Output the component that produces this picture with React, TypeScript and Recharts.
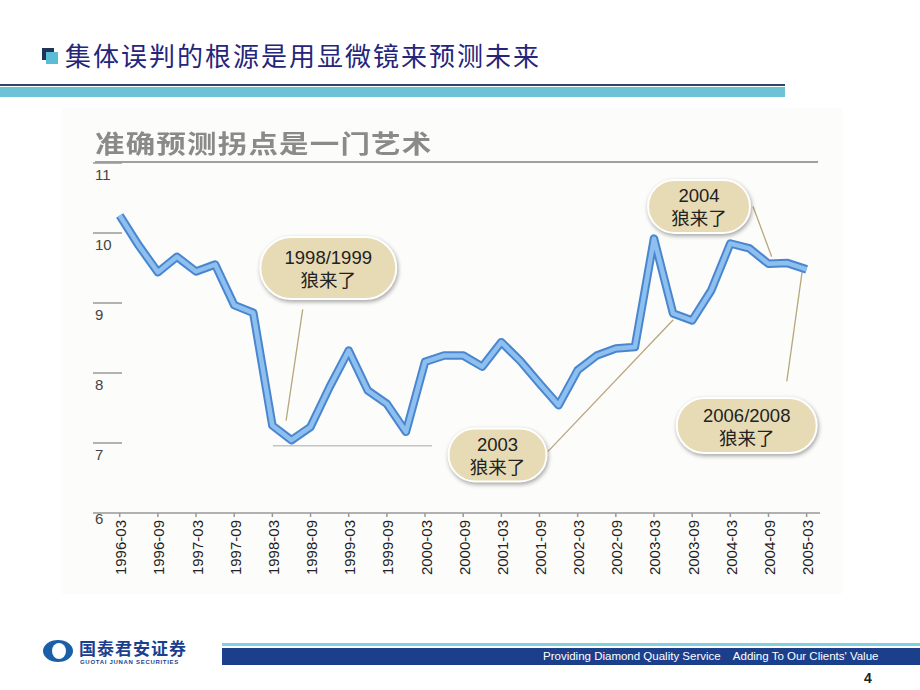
import React from "react";
import { LineChart, Line, XAxis, YAxis, ReferenceLine, ReferenceDot } from "recharts";

// quarterly series, 1996-03 .. 2005-03
const quarters = [
  "1996-03", "1996-06", "1996-09", "1996-12",
  "1997-03", "1997-06", "1997-09", "1997-12",
  "1998-03", "1998-06", "1998-09", "1998-12",
  "1999-03", "1999-06", "1999-09", "1999-12",
  "2000-03", "2000-06", "2000-09", "2000-12",
  "2001-03", "2001-06", "2001-09", "2001-12",
  "2002-03", "2002-06", "2002-09", "2002-12",
  "2003-03", "2003-06", "2003-09", "2003-12",
  "2004-03", "2004-06", "2004-09", "2004-12",
  "2005-03",
];
const rates = [
  10.25, 9.82, 9.44, 9.66,
  9.45, 9.55, 8.97, 8.86,
  7.25, 7.04, 7.23, 7.8,
  8.32, 7.75, 7.56, 7.16,
  8.16, 8.25, 8.25, 8.09,
  8.44, 8.17, 7.85, 7.54,
  8.04, 8.25, 8.35, 8.37,
  9.92, 8.85, 8.75, 9.18,
  9.85, 9.78, 9.56, 9.57,
  9.48,
];
const tickLabels = [
  "1996-03", "1996-09", "1997-03", "1997-09", "1998-03", "1998-09", "1999-03",
  "1999-09", "2000-03", "2000-09", "2001-03", "2001-09", "2002-03", "2002-09",
  "2003-03", "2003-09", "2004-03", "2004-09", "2005-03",
];
const yTicks = [6, 7, 8, 9, 10, 11];

// callouts (x in quarter index, y in value)
const bubbleLabels = ["1998/1999", "2003", "2004", "2006/2008"];
const bubbleX = [10.93, 19.8, 30.36, 32.86];
const bubbleY = [9.5, 6.83, 10.38, 7.25];
const wolfText = "狼来了";
const leaders = [
  [{ x: 9.59, y: 8.91 }, { x: 8.72, y: 7.32 }],
  [{ x: 22.45, y: 6.88 }, { x: 29.01, y: 8.76 }],
  [{ x: 33.19, y: 10.38 }, { x: 34.17, y: 9.66 }],
  [{ x: 34.96, y: 7.88 }, { x: 35.76, y: 9.44 }],
];
const floorLine = [{ x: 8.03, y: 6.96 }, { x: 16.37, y: 6.96 }];

const bubbleW = [136, 98, 102, 140];
const bubbleH = [62, 53, 53, 55];

const data = quarters.map((q, i) => ({ i, q, v: rates[i] }));

const SANS = "'Liberation Sans', Arial, 'Noto Sans CJK SC', sans-serif";
const CJK = "'Noto Sans CJK SC', sans-serif";

function YTick({ y, payload }: any) {
  const v = payload.value;
  if (v === 6) {
    return (
      <text x={95} y={y + 5} fontSize={15} fill="#444" fontFamily={SANS} dominantBaseline="central">6</text>
    );
  }
  return (
    <g>
      <line x1={93} x2={122} y1={y} y2={y} stroke="#9a9a9a" strokeWidth={1.5} />
      <text x={95} y={y + 11} fontSize={15} fill="#444" fontFamily={SANS} dominantBaseline="central">{v}</text>
    </g>
  );
}

function XTick({ x, y, payload }: any) {
  return (
    <text
      transform={`translate(${x + 1},${y + 1}) rotate(-90)`}
      textAnchor="end"
      dominantBaseline="central"
      fontSize={15}
      fill="#222"
      fontFamily={SANS}
    >
      {quarters[payload.value]}
    </text>
  );
}

const makeBubble = (k: number) => (p: any) => {
  const w = bubbleW[k];
  const h = bubbleH[k];
  return (
    <g>
      <rect
        x={p.cx - w / 2} y={p.cy - h / 2} width={w} height={h} rx={h / 2}
        fill="#e7dbb5" stroke="#ffffff" strokeWidth={2}
        style={{ filter: "drop-shadow(1px 2px 2px rgba(0,0,0,0.35))" }}
      />
      <text x={p.cx} y={p.cy - 10.5} textAnchor="middle" dominantBaseline="central"
        fontSize={18.5} fill="#222" fontFamily={SANS}>{bubbleLabels[k]}</text>
      <text x={p.cx} y={p.cy + 11} textAnchor="middle" dominantBaseline="central"
        fontSize={18.5} fill="#222" fontFamily={CJK}>{wolfText}</text>
    </g>
  );
};

export default function App() {
  return (
    <div style={{ position: "absolute", left: 0, top: 0, width: 920, height: 690, background: "#fff", overflow: "hidden" }}>
      {/* slide header */}
      <div style={{ position: "absolute", left: 42, top: 48, width: 12, height: 12, background: "#1d3557" }} />
      <div style={{ position: "absolute", left: 46, top: 52, width: 12, height: 12, background: "#5bbcd6" }} />
      <div style={{
        position: "absolute", left: 65, top: 40, lineHeight: "30px", fontSize: 26, letterSpacing: 2,
        color: "#25257a", fontFamily: CJK,
      }}>集体误判的根源是用显微镜来预测未来</div>
      <div style={{ position: "absolute", left: 0, top: 84, width: 785, height: 2, background: "#2b4a6b" }} />
      <div style={{ position: "absolute", left: 0, top: 87, width: 785, height: 10, background: "#6cc3d8" }} />

      {/* chart panel */}
      <div style={{ position: "absolute", left: 62, top: 108, width: 780, height: 486, background: "#fcfcfb" }} />
      <div style={{
        position: "absolute", left: 95, top: 127, lineHeight: "30px", fontSize: 25, letterSpacing: 1,
        fontWeight: 700, color: "#8a8a8a", fontFamily: CJK, transform: "scaleX(1.18)", transformOrigin: "left center",
        whiteSpace: "nowrap",
      }}>准确预测拐点是一门艺术</div>
      <div style={{ position: "absolute", left: 95, top: 161, width: 723, height: 2, background: "#a0a0a0" }} />

      <div style={{ position: "absolute", left: 0, top: 0 }}>
        <LineChart width={920} height={690} data={data} margin={{ top: 163, right: 100, bottom: 117, left: 92 }}>
          <XAxis
            dataKey="i" type="number" domain={[-1.4, 36.7]} allowDataOverflow
            ticks={tickLabels.map((l) => quarters.indexOf(l))} interval={0}
            height={60} stroke="#999" strokeWidth={1.5} tickSize={4}
            tickLine={{ stroke: "#999" }} tick={<XTick />}
          />
          <YAxis
            type="number" domain={[6, 11]} ticks={yTicks} width={1}
            axisLine={false} tickLine={false} tick={<YTick />} interval={0}
          />
          <ReferenceLine segment={floorLine} stroke="#c4c4c4" strokeWidth={1.5} />
          {leaders.map((seg, k) => (
            <ReferenceLine key={k} segment={seg} stroke="#b8a77c" strokeWidth={1.3} />
          ))}
          <Line type="linear" dataKey="v" stroke="#4a86cf" strokeWidth={8.5} dot={false} activeDot={false}
            strokeLinejoin="round" isAnimationActive={false} />
          <Line type="linear" dataKey="v" stroke="#8ec0ef" strokeWidth={4.5} dot={false} activeDot={false}
            strokeLinejoin="round" isAnimationActive={false} />
          {bubbleLabels.map((l, k) => (
            <ReferenceDot key={l} x={bubbleX[k]} y={bubbleY[k]} r={1} ifOverflow="visible" shape={makeBubble(k)} />
          ))}
        </LineChart>
      </div>

      {/* footer */}
      <div style={{ position: "absolute", left: 43, top: 640, width: 30, height: 22, borderRadius: "50%", background: "#1b5fa8" }} />
      <div style={{ position: "absolute", left: 52, top: 643, width: 14, height: 16, borderRadius: "50%", background: "#fff" }} />
      <div style={{
        position: "absolute", left: 79, top: 639, lineHeight: "18px", fontSize: 17, fontWeight: 700,
        color: "#1b3f8f", fontFamily: CJK, letterSpacing: 1,
      }}>国泰君安证券</div>
      <div style={{
        position: "absolute", left: 80, top: 659, lineHeight: "7px", fontSize: 6, fontWeight: 700,
        color: "#1b3f8f", fontFamily: SANS, letterSpacing: 0.7,
      }}>GUOTAI JUNAN SECURITIES</div>
      <div style={{ position: "absolute", left: 222, top: 643, width: 698, height: 3, background: "#7fd0e0" }} />
      <div style={{ position: "absolute", left: 222, top: 648, width: 698, height: 17, background: "#1c3f8c" }} />
      <div style={{
        position: "absolute", left: 543, top: 648, lineHeight: "17px", fontSize: 11.5, color: "#fff",
        fontFamily: "'Liberation Sans Narrow', 'Liberation Sans', Arial, sans-serif", whiteSpace: "pre",
      }}>{"Providing Diamond Quality Service    Adding To Our Clients' Value"}</div>
      <div style={{
        position: "absolute", left: 864, top: 670, lineHeight: "16px", fontSize: 14, fontWeight: 700,
        color: "#222", fontFamily: SANS,
      }}>4</div>
    </div>
  );
}
